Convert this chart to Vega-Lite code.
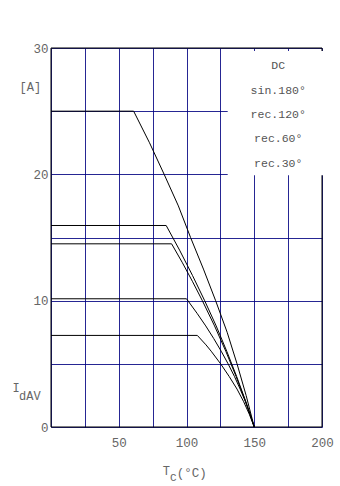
{
  "$schema": "https://vega.github.io/schema/vega-lite/v6.json",
  "autosize": {"type": "none"},
  "padding": {"left": 51, "top": 48, "right": 18, "bottom": 59},
  "width": 271,
  "height": 379,
  "background": "white",
  "resolve": {"axis": {"x": "independent", "y": "independent"}},
  "config": {
    "view": {"stroke": null},
    "font": "Liberation Mono",
    "axis": {
      "grid": true,
      "gridColor": "#000080",
      "gridWidth": 1,
      "gridOpacity": 0.85,
      "ticks": false,
      "domain": false,
      "labelFont": "Liberation Mono",
      "labelFontSize": 12.5,
      "labelColor": "#666666",
      "labelFlush": false,
      "title": null
    }
  },
  "layer": [
    {
      "data": {
        "values": [
          {"curve": "DC", "T": 0, "I": 25},
          {"curve": "DC", "T": 61, "I": 25},
          {"curve": "DC", "T": 72.7, "I": 22.5},
          {"curve": "DC", "T": 83.5, "I": 20},
          {"curve": "DC", "T": 94, "I": 17.5},
          {"curve": "DC", "T": 103, "I": 15},
          {"curve": "DC", "T": 112.5, "I": 12.5},
          {"curve": "DC", "T": 121.5, "I": 10},
          {"curve": "DC", "T": 130, "I": 7.5},
          {"curve": "DC", "T": 137.3, "I": 5},
          {"curve": "DC", "T": 144, "I": 2.5},
          {"curve": "DC", "T": 150, "I": 0},
          {"curve": "sin.180°", "T": 0, "I": 15.95},
          {"curve": "sin.180°", "T": 85, "I": 15.95},
          {"curve": "sin.180°", "T": 94.9, "I": 14},
          {"curve": "sin.180°", "T": 104.4, "I": 12},
          {"curve": "sin.180°", "T": 113.4, "I": 10},
          {"curve": "sin.180°", "T": 121.9, "I": 8},
          {"curve": "sin.180°", "T": 129.7, "I": 6},
          {"curve": "sin.180°", "T": 137, "I": 4},
          {"curve": "sin.180°", "T": 143.8, "I": 2},
          {"curve": "sin.180°", "T": 150, "I": 0},
          {"curve": "rec.120°", "T": 0, "I": 14.5},
          {"curve": "rec.120°", "T": 89, "I": 14.5},
          {"curve": "rec.120°", "T": 97, "I": 13},
          {"curve": "rec.120°", "T": 104.5, "I": 11.5},
          {"curve": "rec.120°", "T": 111.7, "I": 10},
          {"curve": "rec.120°", "T": 120.7, "I": 8},
          {"curve": "rec.120°", "T": 129, "I": 6},
          {"curve": "rec.120°", "T": 136.6, "I": 4},
          {"curve": "rec.120°", "T": 143.7, "I": 2},
          {"curve": "rec.120°", "T": 150, "I": 0},
          {"curve": "rec.60°", "T": 0, "I": 10.15},
          {"curve": "rec.60°", "T": 100, "I": 10.15},
          {"curve": "rec.60°", "T": 107.8, "I": 9},
          {"curve": "rec.60°", "T": 114.2, "I": 8},
          {"curve": "rec.60°", "T": 120.1, "I": 7},
          {"curve": "rec.60°", "T": 125.6, "I": 6},
          {"curve": "rec.60°", "T": 130.7, "I": 5},
          {"curve": "rec.60°", "T": 135.4, "I": 4},
          {"curve": "rec.60°", "T": 139.6, "I": 3},
          {"curve": "rec.60°", "T": 143.5, "I": 2},
          {"curve": "rec.60°", "T": 147, "I": 1},
          {"curve": "rec.60°", "T": 150, "I": 0},
          {"curve": "rec.30°", "T": 0, "I": 7.25},
          {"curve": "rec.30°", "T": 108, "I": 7.25},
          {"curve": "rec.30°", "T": 114.4, "I": 6.5},
          {"curve": "rec.30°", "T": 118.2, "I": 6},
          {"curve": "rec.30°", "T": 125.2, "I": 5},
          {"curve": "rec.30°", "T": 131.5, "I": 4},
          {"curve": "rec.30°", "T": 137.3, "I": 3},
          {"curve": "rec.30°", "T": 142.2, "I": 2},
          {"curve": "rec.30°", "T": 146.4, "I": 1},
          {"curve": "rec.30°", "T": 150, "I": 0}
        ]
      },
      "mark": {"type": "line", "color": "black", "strokeWidth": 1},
      "encoding": {
        "x": {
          "field": "T",
          "type": "quantitative",
          "scale": {"domain": [0, 200], "nice": false, "zero": false},
          "axis": {
            "values": [0, 25, 50, 75, 100, 125, 150, 175, 200],
            "labelExpr": "(datum.value % 50 == 0 && datum.value > 0) ? datum.label : ''",
            "labelPadding": 9
          }
        },
        "y": {
          "field": "I",
          "type": "quantitative",
          "scale": {"domain": [0, 30], "nice": false},
          "axis": {
            "values": [0, 5, 10, 15, 20, 25, 30],
            "labelExpr": "(datum.value % 10 == 0) ? datum.label : ''",
            "labelPadding": 3
          }
        },
        "detail": {"field": "curve", "type": "nominal"}
      }
    },
    {
      "data": {"values": [{}]},
      "mark": {"type": "rect", "fill": null, "fillOpacity": 0, "stroke": "black", "strokeWidth": 1},
      "encoding": {
        "x": {"datum": 0, "type": "quantitative", "axis": null},
        "x2": {"datum": 200},
        "y": {"datum": 30, "type": "quantitative", "axis": null},
        "y2": {"datum": 0}
      }
    },
    {
      "data": {"values": [{}]},
      "mark": {"type": "rect", "fill": "white", "stroke": null},
      "encoding": {
        "x": {"datum": 130.4, "type": "quantitative", "axis": null},
        "x2": {"datum": 201},
        "y": {"datum": 29.76, "type": "quantitative", "axis": null},
        "y2": {"datum": 19.92}
      }
    },
    {
      "data": {"values": [{}]},
      "mark": {
        "type": "text",
        "text": ["DC", "sin.180°", "rec.120°", "rec.60°", "rec.30°"],
        "lineHeight": 24.3,
        "align": "center",
        "baseline": "middle",
        "font": "Liberation Mono",
        "fontSize": 11.5,
        "color": "#555555"
      },
      "encoding": {
        "x": {"datum": 167.7, "type": "quantitative", "axis": null},
        "y": {"datum": 28.55, "type": "quantitative", "axis": null}
      }
    },
    {
      "data": {"values": [{}]},
      "mark": {"type": "text", "text": "[A]", "align": "left", "baseline": "middle", "font": "Liberation Mono", "fontSize": 12, "color": "#666666"},
      "encoding": {
        "x": {"datum": -23.2, "type": "quantitative", "axis": null},
        "y": {"datum": 26.9, "type": "quantitative", "axis": null}
      }
    },
    {
      "data": {"values": [{}]},
      "mark": {"type": "text", "text": "I", "align": "left", "baseline": "middle", "font": "Liberation Mono", "fontSize": 12, "color": "#666666"},
      "encoding": {
        "x": {"datum": -28.5, "type": "quantitative", "axis": null},
        "y": {"datum": 3.09, "type": "quantitative", "axis": null}
      }
    },
    {
      "data": {"values": [{}]},
      "mark": {"type": "text", "text": "dAV", "align": "left", "baseline": "middle", "font": "Liberation Mono", "fontSize": 12, "color": "#666666"},
      "encoding": {
        "x": {"datum": -23.6, "type": "quantitative", "axis": null},
        "y": {"datum": 2.45, "type": "quantitative", "axis": null}
      }
    },
    {
      "data": {"values": [{}]},
      "mark": {"type": "text", "text": "T", "align": "left", "baseline": "middle", "font": "Liberation Mono", "fontSize": 12, "color": "#666666"},
      "encoding": {
        "x": {"datum": 82.5, "type": "quantitative", "axis": null},
        "y": {"datum": -3.48, "type": "quantitative", "axis": null}
      }
    },
    {
      "data": {"values": [{}]},
      "mark": {"type": "text", "text": "C", "align": "left", "baseline": "middle", "font": "Liberation Mono", "fontSize": 11, "color": "#666666"},
      "encoding": {
        "x": {"datum": 87.9, "type": "quantitative", "axis": null},
        "y": {"datum": -4.04, "type": "quantitative", "axis": null}
      }
    },
    {
      "data": {"values": [{}]},
      "mark": {"type": "text", "text": "(°C)", "align": "left", "baseline": "middle", "font": "Liberation Mono", "fontSize": 12.5, "color": "#666666"},
      "encoding": {
        "x": {"datum": 92.8, "type": "quantitative", "axis": null},
        "y": {"datum": -3.64, "type": "quantitative", "axis": null}
      }
    }
  ]
}
